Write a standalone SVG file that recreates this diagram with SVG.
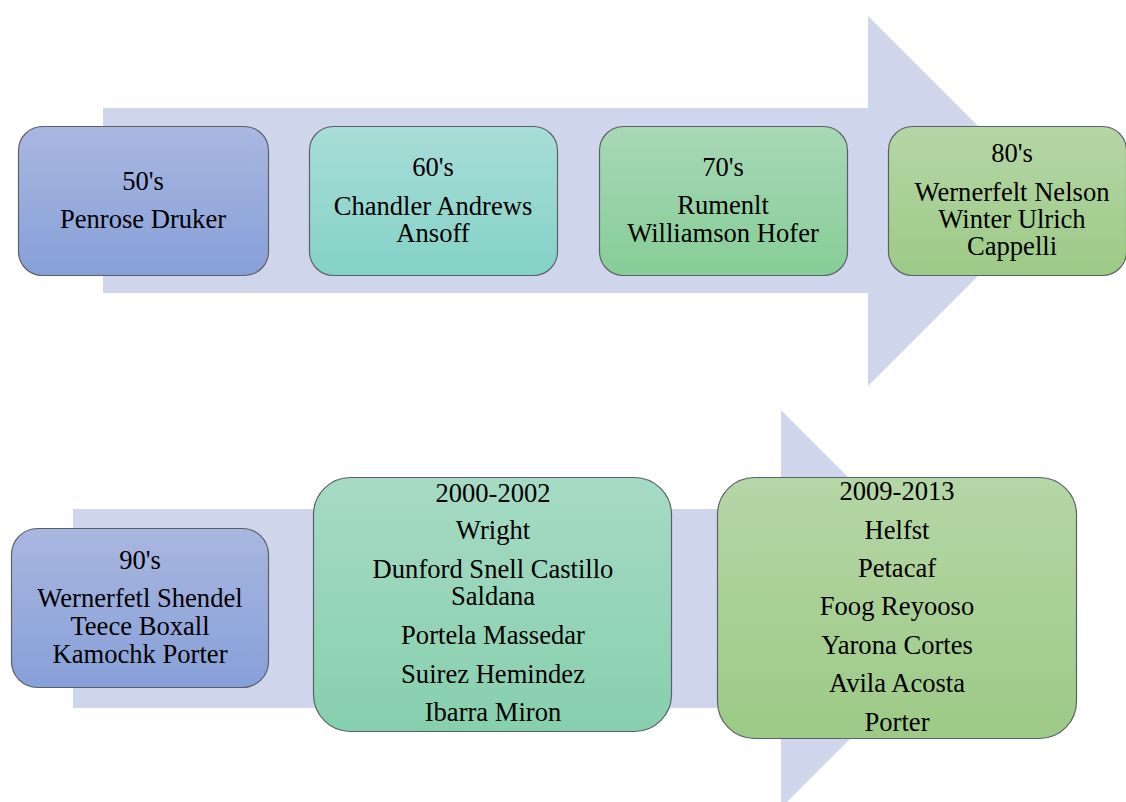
<svg xmlns="http://www.w3.org/2000/svg" width="1126" height="802" viewBox="0 0 1126 802">
  <defs>
    <linearGradient id="gBlue" x1="0" y1="0" x2="0" y2="1">
      <stop offset="0" stop-color="#A9B7E0"/>
      <stop offset="1" stop-color="#87A0D8"/>
    </linearGradient>
    <linearGradient id="gTeal" x1="0" y1="0" x2="0" y2="1">
      <stop offset="0" stop-color="#A8DDD8"/>
      <stop offset="1" stop-color="#84D2C6"/>
    </linearGradient>
    <linearGradient id="gGreen" x1="0" y1="0" x2="0" y2="1">
      <stop offset="0" stop-color="#A8D8B6"/>
      <stop offset="1" stop-color="#86CD97"/>
    </linearGradient>
    <linearGradient id="gMint" x1="0" y1="0" x2="0" y2="1">
      <stop offset="0" stop-color="#A6DAC4"/>
      <stop offset="1" stop-color="#86D0AE"/>
    </linearGradient>
    <linearGradient id="gLime" x1="0" y1="0" x2="0" y2="1">
      <stop offset="0" stop-color="#B5D6A6"/>
      <stop offset="1" stop-color="#9DCA86"/>
    </linearGradient>
  </defs>
  <style>
    .arrow { fill: #CFD5EA; }
    .box { stroke: #5B6068; stroke-width: 1.2; }
    text { font-family: "Liberation Serif", "Times New Roman", serif; font-size: 26.6px; fill: #000; text-anchor: middle; }
  </style>

  <!-- background block arrows -->
  <g id="connectors">
    <polygon class="arrow" points="103,108 868,108 868,16 1053,201 868,386 868,293 103,293"/>
    <polygon class="arrow" points="73,509 781,509 781,410 980,609 781,808 781,708 73,708"/>
  </g>

  <!-- top row -->
  <g id="n50s">
    <rect class="box" x="18.5" y="126.5" width="250" height="149" rx="24" fill="url(#gBlue)"/>
    <text x="143" y="190">50's</text>
    <text x="143" y="228">Penrose Druker</text>
  </g>
  <g id="n60s">
    <rect class="box" x="309.5" y="126.5" width="248" height="149" rx="24" fill="url(#gTeal)"/>
    <text x="433" y="176">60's</text>
    <text x="433" y="215">Chandler Andrews</text>
    <text x="433" y="242">Ansoff</text>
  </g>
  <g id="n70s">
    <rect class="box" x="599.5" y="126.5" width="248" height="149" rx="24" fill="url(#gGreen)"/>
    <text x="723" y="176">70's</text>
    <text x="723" y="214">Rumenlt</text>
    <text x="723" y="242">Williamson Hofer</text>
  </g>
  <g id="n80s">
    <rect class="box" x="888.5" y="126.5" width="238" height="149" rx="24" fill="url(#gLime)"/>
    <text x="1012" y="162">80's</text>
    <text x="1012" y="201">Wernerfelt Nelson</text>
    <text x="1012" y="228">Winter Ulrich</text>
    <text x="1012" y="255">Cappelli</text>
  </g>

  <!-- bottom row -->
  <g id="n90s">
    <rect class="box" x="11.5" y="528.5" width="257" height="159" rx="26" fill="url(#gBlue)"/>
    <text x="140" y="569">90's</text>
    <text x="140" y="607">Wernerfetl Shendel</text>
    <text x="140" y="635">Teece Boxall</text>
    <text x="140" y="663">Kamochk Porter</text>
  </g>
  <g id="n2000">
    <rect class="box" x="313.5" y="477.5" width="358" height="254" rx="37" fill="url(#gMint)"/>
    <text x="493" y="502">2000-2002</text>
    <text x="493" y="539">Wright</text>
    <text x="493" y="578">Dunford Snell Castillo</text>
    <text x="493" y="605">Saldana</text>
    <text x="493" y="644">Portela Massedar</text>
    <text x="493" y="683">Suirez Hemindez</text>
    <text x="493" y="721">Ibarra Miron</text>
  </g>
  <g id="n2009">
    <rect class="box" x="717.5" y="477.5" width="359" height="261" rx="37" fill="url(#gLime)"/>
    <text x="897" y="500">2009-2013</text>
    <text x="897" y="539">Helfst</text>
    <text x="897" y="577">Petacaf</text>
    <text x="897" y="615">Foog Reyooso</text>
    <text x="897" y="654">Yarona Cortes</text>
    <text x="897" y="692">Avila Acosta</text>
    <text x="897" y="731">Porter</text>
  </g>
</svg>
